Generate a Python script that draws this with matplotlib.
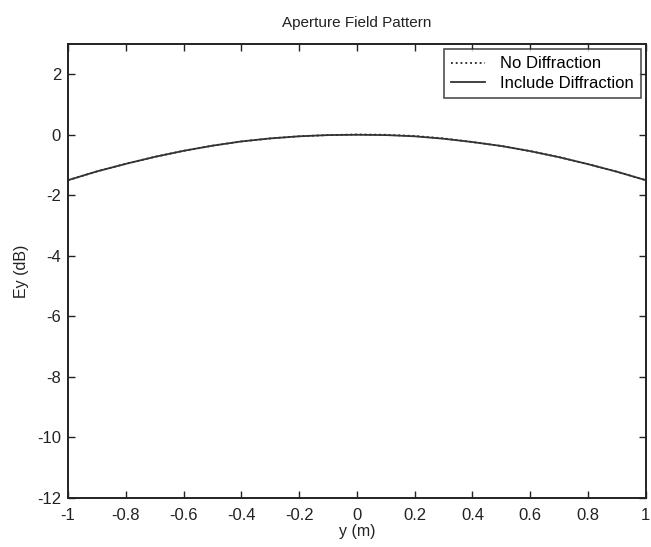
import matplotlib.pyplot as plt
import numpy as np

plt.rcParams['font.family'] = ['Liberation Sans', 'DejaVu Sans']

# aperture position (m)
y_pos = [-1.0, -0.9, -0.8, -0.7, -0.6, -0.5, -0.4, -0.3, -0.2, -0.1,
         0.0, 0.1, 0.2, 0.3, 0.4, 0.5, 0.6, 0.7, 0.8, 0.9, 1.0]
# field level (dB)
ey_no_diff = [-1.50, -1.21, -0.96, -0.73, -0.53, -0.36, -0.22, -0.12, -0.05, -0.01,
              0.01, 0.00, -0.04, -0.12, -0.24, -0.37, -0.54, -0.74, -0.97, -1.22, -1.50]
ey_with_diff = [-1.50, -1.21, -0.96, -0.73, -0.53, -0.36, -0.22, -0.12, -0.05, -0.01,
                0.00, -0.01, -0.05, -0.13, -0.24, -0.37, -0.54, -0.74, -0.97, -1.22, -1.50]

xticks = np.arange(-1.0, 1.01, 0.2)
yticks = np.arange(-12, 3, 2)

fig = plt.figure(figsize=(6.51, 5.47), dpi=100)
ax = fig.add_axes([0.1045, 0.0896, 0.8875, 0.83])

ax.plot(y_pos, ey_no_diff, linestyle=':', color='#222222', linewidth=1.3, label='No Diffraction')
ax.plot(y_pos, ey_with_diff, linestyle='-', color='#333333', linewidth=1.3, label='Include Diffraction')

ax.set_xlim(-1, 1)
ax.set_ylim(-12, 3)
ax.set_xticks(xticks)
ax.set_xticklabels(['-1', '-0.8', '-0.6', '-0.4', '-0.2', '0', '0.2', '0.4', '0.6', '0.8', '1'])
ax.set_yticks(yticks)
ax.set_yticklabels([str(v) for v in yticks])
ax.tick_params(direction='in', top=True, right=True, length=5, width=1.0,
               labelsize=12, colors='#222222')
ax.tick_params(axis='x', pad=7)
ax.tick_params(axis='y', pad=5)
for s in ax.spines.values():
    s.set_linewidth(1.4)
    s.set_color('#222222')

ax.set_title('Aperture Field Pattern', fontsize=11, color='#222222', pad=12)
ax.set_xlabel('y (m)', fontsize=11.5, color='#222222', labelpad=1)
ax.set_ylabel('Ey (dB)', fontsize=11.5, color='#222222', labelpad=6)

leg = ax.legend(loc='upper right', fontsize=12, frameon=True, fancybox=False,
                borderaxespad=0.3, handlelength=2.0, labelspacing=0.25,
                borderpad=0.45, handletextpad=0.9)
leg.get_frame().set_edgecolor('#222222')
leg.get_frame().set_linewidth(1.2)

fig.savefig('out.png', dpi=100)
